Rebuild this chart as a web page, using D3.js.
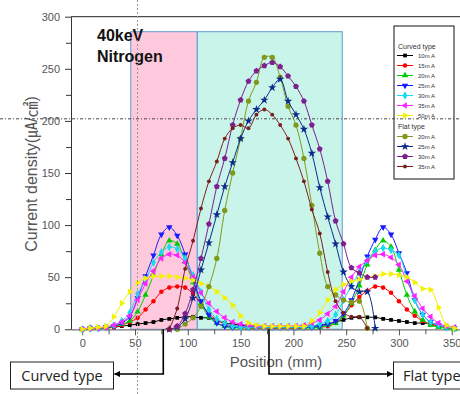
<!DOCTYPE html>
<html><head><meta charset="utf-8">
<script src="https://cdn.jsdelivr.net/npm/d3@7"></script>
<style>body{margin:0;background:#fff}svg{display:block}</style>
</head><body><svg id="c" width="460" height="394"></svg>
<script>
// ---------- data ----------
const positions = [0,7.5,15,22.5,30,37.5,45,52.5,60,67.5,75,82.5,90,97.5,105,112.5,120,127.5,135,142.5,150,157.5,165,172.5,180,187.5,195,202.5,210,217.5,225,232.5,240,247.5,255,262.5,270,277.5,285,292.5,300,307.5,315,322.5,330,337.5,345,352.5];
const curved10 = [0,1,1,2,2,3,4,5,6,7, 9,10,11,12,12,11,11,9,6,5, 4,3,3,2,2,2,2,2,3,3, 4,5,7,9,11,11.5,11.5,11.5,10,9, 8,7,6,6,5,3,2,1];
const curved15 = [0,0,1,1,2,4,7,11,19,27, 36,40,41,40,34,24,15,9,5,3, 2,1,1,1,1,1,1,1,1,2, 2,3,6,13,23,31,37,41,40,35, 27,19,13,8,5,3,2,1];
const curved20 = [0,1,1,2,3,5,8,17,33,52, 72,85,82,65,45,25,12,6,3,2, 2,2,2,2,2,2,2,2,2,2, 2,4,6,13,25,42,62,76,85,79, 57,33,17,9,4,2,1,0];
const curved25 = [0,1,1,2,3,6,12,30,51,71, 91,98,90,72,48,27,14,6,3,2, 2,2,2,2,2,2,2,2,2,2, 3,5,8,15,28,48,70,86,98,91, 73,54,28,14,7,4,2,1];
const curved30 = [0,1,1,2,4,8,16,34,47,64, 74,79,77,68,52,36,19,10,6,3, 2,2,2,2,2,2,2,2,2,3, 5,8,14,28,42,55,66,75,78,76, 71,49,28,14,7,4,2,1];
const curved35 = [0,1,1,2,4,7,13,28,44,56, 68,72,71,64,50,35,25,17,11,7, 5,4,3,3,3,3,3,3,4,6, 9,15,22,36,50,60,66,71,72,69, 62,46,32,20,12,6,3,2];
const curved50 = [0,1,2,3,12,25,36,45,49,51, 51,51,50,49,47,44,41,36,30,23, 13,6,4,3,3,3,3,3,3,8, 16,28,38,43,46,48,50,51,53,53, 52,50,45,39,38,21,4,1];

const flatPositions = [82.5,90,97.5,105,112.5,120,127.5,135,142.5,150,157.5,165,172.5,180,187.5,195,202.5,210,217.5,225,232.5,240,247.5,255,262.5,270,277.5];
const flat20 = [null,0,5,11,22,41,68,114,150,183,219,237,261,261,242,214,196,164,119,73,41,33,28,26,27,1,null];
const flat25 = [0,2,10,30,57,83,110,137,160,183,200,211,220,232,240,219,206,192,169,136,108,82,55,41,36,36,1];
const flat30 = [0,3,15,38,68,101,137,164,196,220,238,248,253,256,252,243,233,219,196,173,142,104,82,59,54,50,50];
const flat35 = [0,20,58,85,116,142,161,183,193,196,193,206,211,206,196,183,164,142,115,92,55,27,16,12,12,1,null];

const curvedLabels = ["10m A","15m A","20m A","25m A","30m A","35m A","50m A"];
const flatLabels = ["20m A","25m A","30m A","35m A"];
const xTicks = [0,50,100,150,200,250,300,350];
const yTicks = [0,50,100,150,200,250,300];
const regionEdges = [46, 109, 246.3];   // curved region | flat region (mm)
const regionTop = 285.6;
const guideX = 52.4, guideY = 202;
const curvedArrowX = 76.8, flatArrowX = 176.9;

// ---------- setup ----------
const svg = d3.select("#c");
const x = d3.scaleLinear().domain([-10.6, 358]).range([71, 460.2]);
const y = d3.scaleLinear().domain([0, 300]).range([329.3, 16.7]);
const tickFont = "'Liberation Sans', Arial, sans-serif";

// regions
svg.append("rect").attr("x", x(regionEdges[0])).attr("y", y(regionTop))
  .attr("width", x(regionEdges[1]) - x(regionEdges[0])).attr("height", y(0) - y(regionTop))
  .attr("fill", "#ffc9dd").attr("stroke", "#5b9bd5").attr("stroke-width", 1);
svg.append("rect").attr("x", x(regionEdges[1])).attr("y", y(regionTop))
  .attr("width", x(regionEdges[2]) - x(regionEdges[1])).attr("height", y(0) - y(regionTop))
  .attr("fill", "#c9f4ea").attr("stroke", "#5b9bd5").attr("stroke-width", 1);

// axes
const xAxis = d3.axisBottom(x).tickValues(xTicks).tickSize(6).tickSizeOuter(0).tickPadding(4);
const gx = svg.append("g").attr("transform", `translate(0,${y(0)})`).call(xAxis);
gx.selectAll("line").attr("stroke", "#555");
gx.select(".domain").attr("stroke", "#777").attr("stroke-width", 1.3);
gx.selectAll("text").attr("font-family", tickFont).attr("font-size", 11).attr("fill", "#555");
const gxm = svg.append("g").attr("transform", `translate(0,${y(0)})`)
  .call(d3.axisBottom(x).tickValues([25,75,125,175,225,275,325]).tickSize(5).tickFormat(""));
gxm.select(".domain").remove(); gxm.selectAll("line").attr("stroke", "#555");

const yAxis = d3.axisLeft(y).tickValues(yTicks).tickSize(6).tickSizeOuter(0).tickPadding(5);
const gy = svg.append("g").attr("transform", `translate(71,0)`).call(yAxis);
gy.selectAll("line").attr("stroke", "#333");
gy.select(".domain").attr("stroke", "#333");
gy.selectAll("text").attr("font-family", tickFont).attr("font-size", 11).attr("fill", "#555");
const gym = svg.append("g").attr("transform", `translate(71,0)`)
  .call(d3.axisLeft(y).tickValues([25,75,125,175,225,275]).tickSize(5).tickFormat(""));
gym.select(".domain").remove(); gym.selectAll("line").attr("stroke", "#333");
svg.append("line").attr("x1", 71).attr("x2", 460).attr("y1", y(300)).attr("y2", y(300)).attr("stroke", "#222");

// axis titles
svg.append("text").attr("x", 276).attr("y", 367).attr("text-anchor", "middle")
  .attr("font-family", "'Liberation Sans', Arial, sans-serif").attr("font-size", 15).attr("fill", "#555")
  .text("Position (mm)");
svg.append("text").attr("transform", "translate(37,174) rotate(-90)").attr("text-anchor", "middle")
  .attr("font-family", "'Liberation Sans', Arial, 'Noto Sans CJK KR', sans-serif").attr("font-size", 16).attr("fill", "#555")
  .text("Current density(㎂/㎠)");

// title text
svg.append("text").attr("x", 97).attr("y", 41).attr("font-family", "'Liberation Sans', Arial, sans-serif")
  .attr("font-weight", "bold").attr("font-size", 16).attr("fill", "#111").text("40keV");
svg.append("text").attr("x", 97).attr("y", 62).attr("font-family", "'Liberation Sans', Arial, sans-serif")
  .attr("font-weight", "bold").attr("font-size", 16).attr("fill", "#111").text("Nitrogen");

// symbols
function pentagon(r) {
  const p = d3.range(5).map(k => { const a = -Math.PI/2 + k*2*Math.PI/5; return [r*Math.cos(a), r*Math.sin(a)]; });
  return "M" + p.map(d => d.join(",")).join("L") + "Z";
}
const sym = {
  square: () => d3.symbol(d3.symbolSquare, 14)(),
  circle: () => d3.symbol(d3.symbolCircle, 16)(),
  tri: () => d3.symbol(d3.symbolTriangle, 18)(),
  diamond: () => d3.symbol(d3.symbolDiamond, 20)(),
  bigcircle: () => d3.symbol(d3.symbolCircle, 22)(),
  star: () => d3.symbol(d3.symbolStar, 22)(),
  pent: () => pentagon(3.1),
  small: () => d3.symbol(d3.symbolCircle, 12)()
};
const curvedSeries = [
  {vals: curved10, color: "#000000", shape: "square", rot: 0},
  {vals: curved15, color: "#ff0000", shape: "circle", rot: 0},
  {vals: curved20, color: "#00cc00", shape: "tri", rot: 0},
  {vals: curved25, color: "#1a1aff", shape: "tri", rot: 180},
  {vals: curved30, color: "#19d9f0", shape: "diamond", rot: 0},
  {vals: curved35, color: "#ff22ff", shape: "tri", rot: -90},
  {vals: curved50, color: "#f2f200", shape: "tri", rot: 90}
];
const flatSeries = [
  {vals: flat20, color: "#7f9a1a", shape: "bigcircle", rot: 0},
  {vals: flat25, color: "#0c2a8c", shape: "star", rot: 0},
  {vals: flat30, color: "#7e1f8e", shape: "pent", rot: 0},
  {vals: flat35, color: "#7a1e1e", shape: "small", rot: 0}
];

const line = d3.line().defined(d => d[1] != null).x(d => x(d[0])).y(d => y(d[1]))
  .curve(d3.curveCatmullRom.alpha(0.5));

function drawSeries(s, xs) {
  const pts = xs.map((p, i) => [p, s.vals[i]]);
  svg.append("path").attr("d", line(pts)).attr("fill", "none").attr("stroke", s.color).attr("stroke-width", 1);
  svg.append("g").selectAll("path").data(pts.filter(d => d[1] != null)).join("path")
    .attr("d", sym[s.shape]())
    .attr("transform", d => `translate(${x(d[0])},${y(d[1])}) rotate(${s.rot})`)
    .attr("fill", s.color);
}
curvedSeries.forEach(s => drawSeries(s, positions));
flatSeries.forEach(s => drawSeries(s, flatPositions));

// legend
const lg = svg.append("g");
lg.append("rect").attr("x", 394).attr("y", 26).attr("width", 60).attr("height", 153)
  .attr("fill", "#fff").attr("stroke", "#111").attr("stroke-width", 1);
const lf = "'Liberation Sans', Arial, sans-serif";
lg.append("text").attr("x", 398).attr("y", 48.5).attr("font-family", lf).attr("font-size", 7).attr("fill", "#333").text("Curved type");
function legendRow(s, label, yy) {
  lg.append("line").attr("x1", 397).attr("x2", 413).attr("y1", yy).attr("y2", yy).attr("stroke", s.color).attr("stroke-width", 1);
  lg.append("path").attr("d", sym[s.shape]()).attr("transform", `translate(405,${yy}) rotate(${s.rot})`).attr("fill", s.color);
  lg.append("text").attr("x", 418).attr("y", yy + 2.3).attr("font-family", lf).attr("font-size", 6).attr("fill", "#333").text(label);
}
curvedSeries.forEach((s, i) => legendRow(s, curvedLabels[i], 55.5 + i * 10));
lg.append("text").attr("x", 398).attr("y", 129).attr("font-family", lf).attr("font-size", 7).attr("fill", "#333").text("Flat type");
flatSeries.forEach((s, i) => legendRow(s, flatLabels[i], 136.5 + i * 10));

// guide lines
svg.append("line").attr("x1", x(guideX)).attr("x2", x(guideX)).attr("y1", 0).attr("y2", 394)
  .attr("stroke", "#999").attr("stroke-width", 1).attr("stroke-dasharray", "2,2");
svg.append("line").attr("x1", 0).attr("x2", 460).attr("y1", y(guideY)).attr("y2", y(guideY))
  .attr("stroke", "#444").attr("stroke-width", 1).attr("stroke-dasharray", "3,2,1,2");

// annotations
const defs = svg.append("defs");
defs.append("marker").attr("id", "ah").attr("viewBox", "0 0 10 10").attr("refX", 9).attr("refY", 5)
  .attr("markerWidth", 4).attr("markerHeight", 4).attr("orient", "auto")
  .append("path").attr("d", "M0,0L10,5L0,10Z").attr("fill", "#000");
const af = "'Open Sans', 'Noto Sans', sans-serif";
svg.append("rect").attr("x", 10.5).attr("y", 362).attr("width", 103).attr("height", 27)
  .attr("fill", "#fff").attr("stroke", "#222").attr("stroke-width", 1);
svg.append("text").attr("x", 62).attr("y", 381).attr("text-anchor", "middle").attr("font-family", af)
  .attr("font-size", 14.5).attr("fill", "#222").text("Curved type");
svg.append("path").attr("d", `M${x(curvedArrowX)},${y(0)}V374H114.5`).attr("fill", "none")
  .attr("stroke", "#000").attr("stroke-width", 1.6).attr("marker-end", "url(#ah)");
svg.append("rect").attr("x", 393.5).attr("y", 362).attr("width", 80).attr("height", 27)
  .attr("fill", "#fff").attr("stroke", "#222").attr("stroke-width", 1);
svg.append("text").attr("x", 403).attr("y", 381).attr("font-family", af)
  .attr("font-size", 14.5).attr("fill", "#222").text("Flat type");
svg.append("path").attr("d", `M${x(flatArrowX)},${y(0)}V374H392.5`).attr("fill", "none")
  .attr("stroke", "#000").attr("stroke-width", 1.6).attr("marker-end", "url(#ah)");
</script>
</body></html>
